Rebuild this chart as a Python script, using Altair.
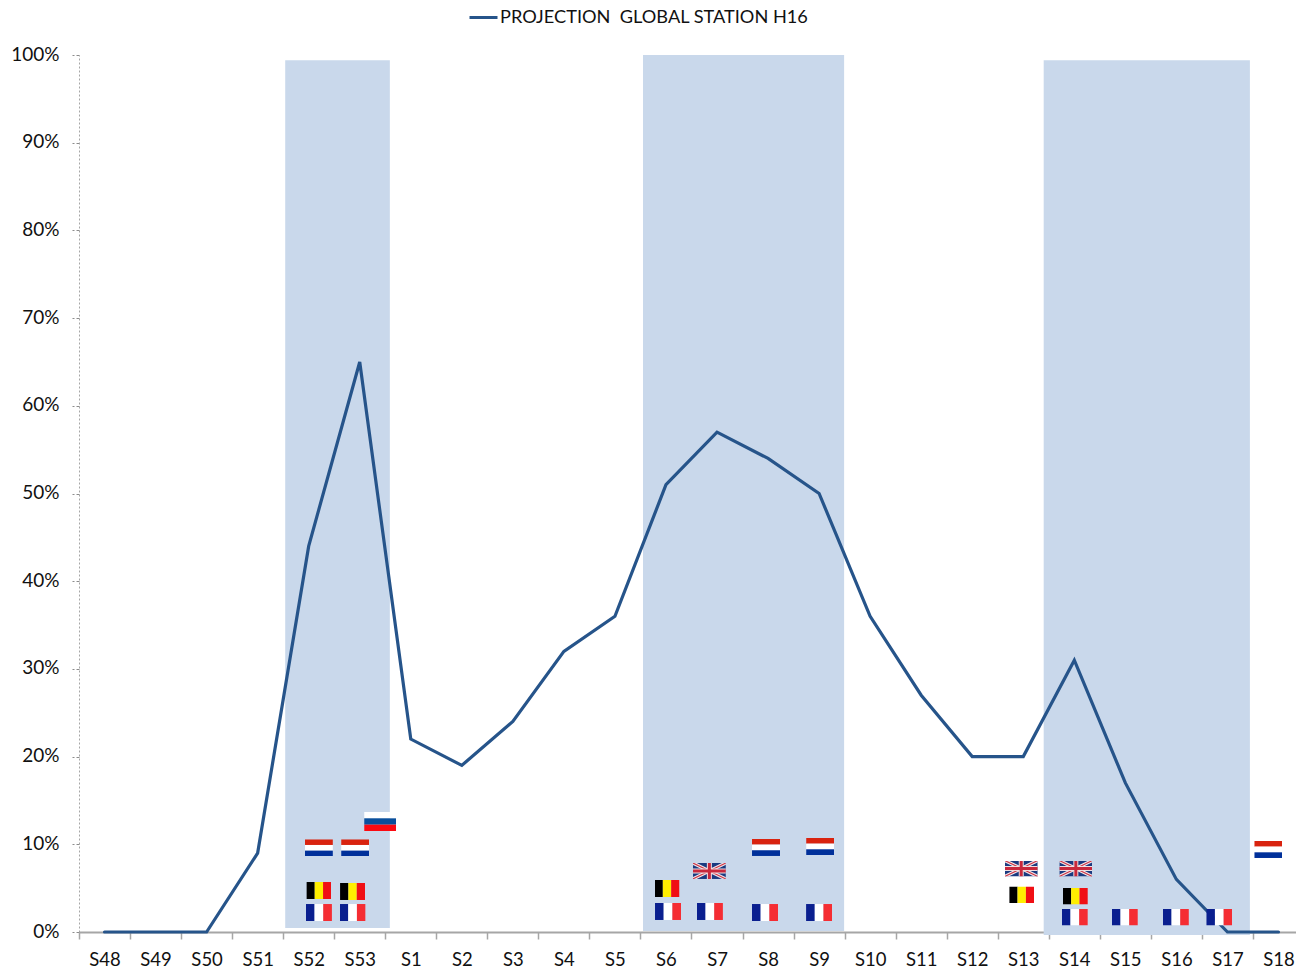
import base64
import altair as alt
import pandas as pd

weeks = ["S48","S49","S50","S51","S52","S53","S1","S2","S3","S4","S5","S6","S7","S8","S9",
         "S10","S11","S12","S13","S14","S15","S16","S17","S18"]
projection = [0,0,0,9,44,65,22,19,24,32,36,51,57,54,50,36,27,20,20,31,17,6,0,0]
series_name = "PROJECTION \u00a0GLOBAL STATION H16"

band_start = [4.04, 11.05, 18.90]
band_end = [6.09, 14.99, 22.94]
band_top = [99.4, 100.0, 99.4]
band_bottom = [0.45, 0.1, -0.35]

flag_country = ["NL","NL","BE","BE","FR","FR","RU",
                "BE","FR","UK","FR","NL","FR","NL","FR",
                "UK","BE","UK","BE","FR","FR","FR","FR","NL"]
flag_week = [4.70,5.41,4.70,5.36,4.70,5.36,5.90,
             11.52,11.54,12.35,12.36,13.46,13.44,14.52,14.50,
             18.46,18.47,19.53,19.52,19.51,20.49,21.49,22.34,23.30]
flag_level = [9.6,9.6,4.73,4.62,2.22,2.22,12.6,
              4.96,2.34,6.96,2.34,9.64,2.22,9.75,2.22,
              7.24,4.22,7.24,4.1,1.71,1.71,1.71,1.71,9.41]


def svg_uri(body, w, h):
    svg = f'<svg xmlns="http://www.w3.org/2000/svg" viewBox="0 0 {w} {h}" preserveAspectRatio="none">{body}</svg>'
    return "data:image/svg+xml;base64," + base64.b64encode(svg.encode()).decode()


def v_stripes(a, b, c):
    return svg_uri(f'<rect width="1" height="3" fill="{a}"/><rect x="1" width="1" height="3" fill="{b}"/>'
                   f'<rect x="2" width="1" height="3" fill="{c}"/>', 3, 3)


def h_stripes(a, b, c):
    return svg_uri(f'<rect width="3" height="1" fill="{a}"/><rect y="1" width="3" height="1" fill="{b}"/>'
                   f'<rect y="2" width="3" height="1" fill="{c}"/>', 3, 3)


uk = svg_uri('<rect width="33" height="16" fill="#1a3a80"/>'
             '<path d="M0 0L33 16M33 0L0 16" stroke="#f2e4e6" stroke-width="3.4"/>'
             '<path d="M0 0L33 16M33 0L0 16" stroke="#cc3344" stroke-width="1.1"/>'
             '<path d="M16.5 0V16M0 8H33" stroke="#f0dfe2" stroke-width="5"/>'
             '<path d="M16.5 0V16M0 8H33" stroke="#c8283c" stroke-width="3"/>', 33, 16)

flag_images = {
    "FR": (v_stripes("#0a1f8f", "#ffffff", "#f52d33"), 26, 17),
    "BE": (v_stripes("#000000", "#ffee00", "#f00f14"), 25, 17),
    "NL": (h_stripes("#d9230f", "#ffffff", "#00309a"), 28, 17),
    "RU": (h_stripes("#ffffff", "#0a4f9c", "#fb0a12"), 32, 19),
    "UK": (uk, 33, 16),
}

FONT = "Lato"
line_df = pd.DataFrame({"week": weeks, "value": projection, "series": series_name})
band_df = pd.DataFrame({"start": band_start, "end": band_end, "top": band_top, "bottom": band_bottom})
flag_df = pd.DataFrame({"country": flag_country, "week": flag_week, "level": flag_level})

xq = alt.Scale(domain=[0, 24], nice=False, zero=False)
yq = alt.Scale(domain=[0, 100], nice=False)
y_axis = alt.Axis(
    title=None, values=list(range(0, 101, 10)), labelExpr="datum.value + '%'",
    labelFont=FONT, labelFontSize=19, labelColor="#111111", labelPadding=13, labelOffset=-1,
    tickColor="#8c8c8c", tickSize=7, tickDash=[3, 2], tickWidth=1,
    domainColor="#a6a6a6", domainDash=[2, 2], domainWidth=1, grid=False)

bands = alt.Chart(band_df).mark_rect(color="#c9d8eb").encode(
    x=alt.X("start:Q", scale=xq, axis=None),
    x2="end:Q",
    y=alt.Y("top:Q", scale=yq, axis=y_axis),
    y2="bottom:Q",
)

line = alt.Chart(line_df).mark_line(strokeWidth=3.2, strokeCap="round", strokeJoin="miter").encode(
    x=alt.X("week:N", sort=weeks, scale=alt.Scale(type="band", paddingInner=0, paddingOuter=0),
            axis=alt.Axis(title=None, labelAngle=0, tickBand="extent", labelFont=FONT, labelFontSize=18.5,
                          labelColor="#111111", labelPadding=11, tickColor="#a6a6a6", tickSize=7, tickWidth=1.5,
                          domainColor="#a6a6a6", domainWidth=2, grid=False, labelOverlap=False)),
    y=alt.Y("value:Q", scale=yq, axis=y_axis),
    color=alt.Color("series:N", scale=alt.Scale(range=["#26548a"]), legend=alt.Legend(
        title=None, orient="none", legendX=389, legendY=-53, symbolType="stroke", symbolSize=784,
        symbolStrokeWidth=3, labelFont=FONT, labelFontSize=18.2, labelColor="#111111", labelOffset=1,
        labelLimit=500)),
)

flag_layers = []
for country, (uri, w, h) in flag_images.items():
    subset = flag_df[flag_df.country == country].assign(url=uri)
    flag_layers.append(
        alt.Chart(subset).mark_image(width=w, height=h, aspect=False).encode(
            x=alt.X("week:Q", scale=xq, axis=None),
            y=alt.Y("level:Q", scale=yq, axis=y_axis),
            url="url:N",
        )
    )

chart = alt.layer(bands, line, *flag_layers).resolve_scale(x="independent", color="independent").properties(
    width=1225, height=877, autosize="none",
    padding={"left": 71, "top": 47, "right": -8, "bottom": 39},
).configure_view(stroke=None)

chart.save("out.html", embed_options={"renderer": "svg", "actions": False})
